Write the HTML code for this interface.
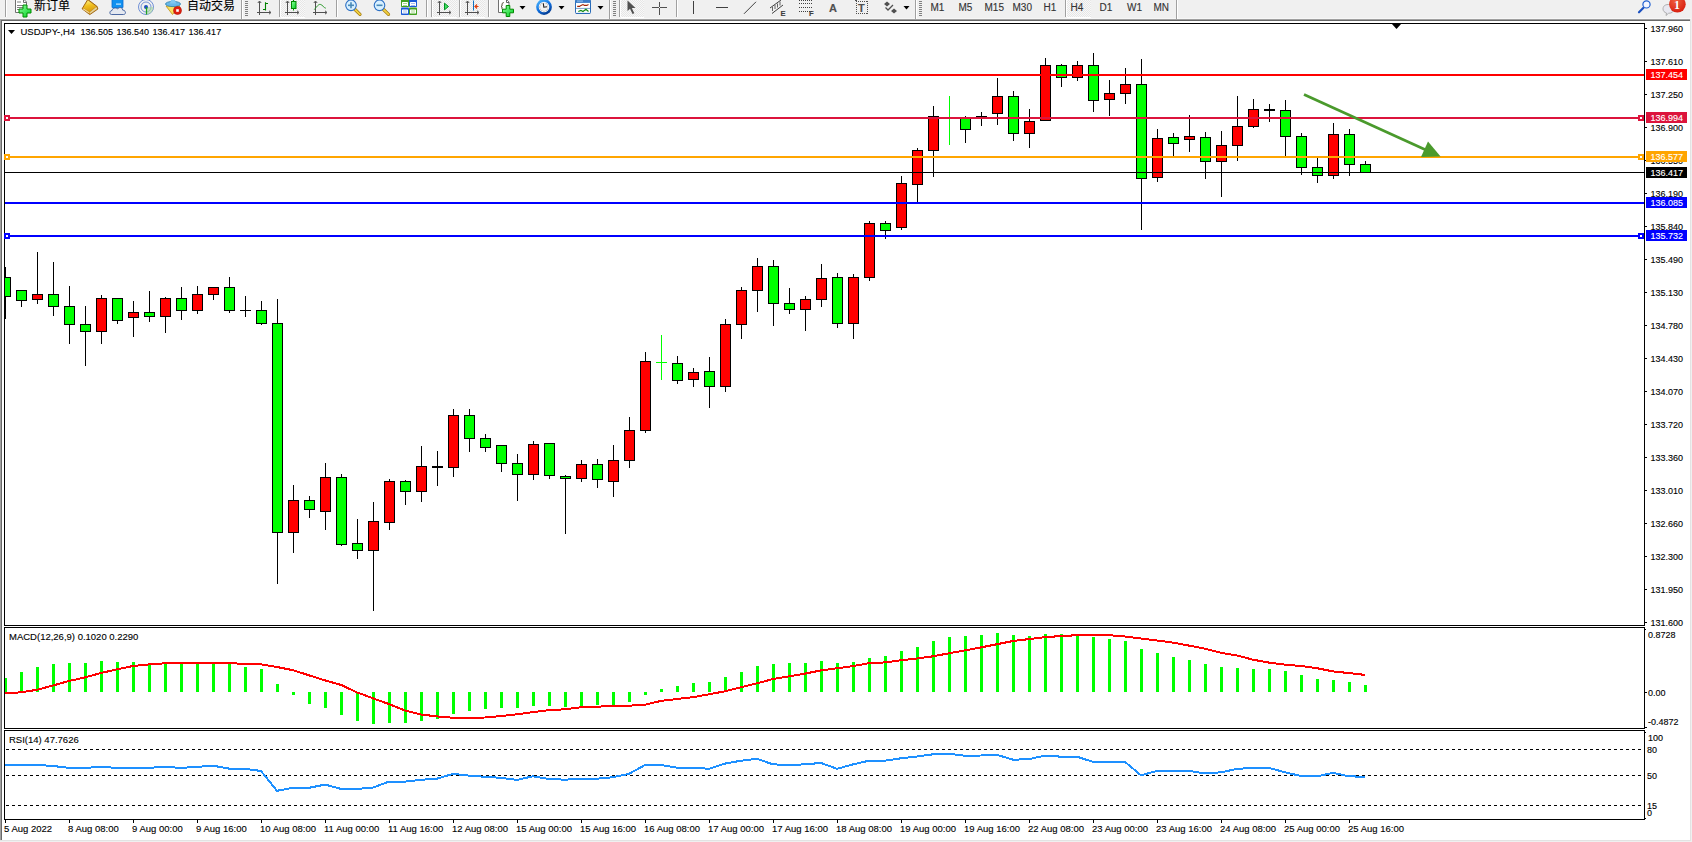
<!DOCTYPE html><html><head><meta charset="utf-8"><title>USDJPY-,H4</title><style>
html,body{margin:0;padding:0;width:1692px;height:842px;overflow:hidden;background:#f0f0f0}
svg{display:block;position:absolute;left:0;top:0}
text{font-family:"Liberation Sans",sans-serif;font-size:9.5px;fill:#000}
.tb{font-size:10px;fill:#333}
.cj{font-family:"Liberation Sans","Noto Sans CJK SC","WenQuanYi Zen Hei",sans-serif;font-size:12px;fill:#000}
.wt{fill:#fff}
.n{font-size:9px}
text{stroke:#000;stroke-width:0.12px;paint-order:stroke}
.wt{stroke:#fff}
.tb{stroke:#333}
</style></head><body>
<svg width="1692" height="842" viewBox="0 0 1692 842" shape-rendering="crispEdges">
<rect x="0" y="0" width="1692" height="842" fill="#f0f0f0"/>
<rect x="0" y="18" width="1691" height="1" fill="#f7f7f7"/>
<rect x="0" y="19" width="1691" height="1" fill="#a0a0a0"/>
<rect x="1" y="20" width="1690" height="1" fill="#696969"/>
<rect x="0" y="19" width="1" height="821" fill="#a0a0a0"/>
<rect x="1" y="20" width="1" height="820" fill="#696969"/>
<rect x="2" y="21" width="1688" height="819" fill="#ffffff"/>
<rect x="1690" y="19" width="1" height="822" fill="#e3e3e3"/>
<rect x="0" y="840" width="1691" height="1" fill="#e3e3e3"/>
<rect x="4" y="23" width="1641" height="1" fill="#000"/>
<rect x="4" y="625" width="1641" height="1" fill="#000"/>
<rect x="4" y="23" width="1" height="603" fill="#000"/>
<rect x="1644" y="23" width="1" height="603" fill="#000"/>
<rect x="4" y="627" width="1641" height="1" fill="#000"/>
<rect x="4" y="728" width="1641" height="1" fill="#000"/>
<rect x="4" y="627" width="1" height="102" fill="#000"/>
<rect x="1644" y="627" width="1" height="102" fill="#000"/>
<rect x="4" y="730" width="1641" height="1" fill="#000"/>
<rect x="4" y="819" width="1641" height="1" fill="#000"/>
<rect x="4" y="730" width="1" height="90" fill="#000"/>
<rect x="1644" y="730" width="1" height="90" fill="#000"/>
<defs><clipPath id="cm"><rect x="5" y="24" width="1639" height="601"/></clipPath><clipPath id="cd"><rect x="5" y="628" width="1639" height="100"/></clipPath><clipPath id="cr"><rect x="5" y="731" width="1639" height="88"/></clipPath></defs>
<g clip-path="url(#cm)">
<rect x="5" y="267" width="1" height="52" fill="#000"/>
<rect x="0" y="277" width="11" height="20" fill="#000"/>
<rect x="1" y="278" width="9" height="18" fill="#00ff00"/>
<rect x="21" y="290" width="1" height="17" fill="#000"/>
<rect x="16" y="290" width="11" height="11" fill="#000"/>
<rect x="17" y="291" width="9" height="9" fill="#00ff00"/>
<rect x="37" y="252" width="1" height="52" fill="#000"/>
<rect x="32" y="294" width="11" height="6" fill="#000"/>
<rect x="33" y="295" width="9" height="4" fill="#ff0000"/>
<rect x="53" y="262" width="1" height="54" fill="#000"/>
<rect x="48" y="294" width="11" height="13" fill="#000"/>
<rect x="49" y="295" width="9" height="11" fill="#00ff00"/>
<rect x="69" y="286" width="1" height="58" fill="#000"/>
<rect x="64" y="306" width="11" height="19" fill="#000"/>
<rect x="65" y="307" width="9" height="17" fill="#00ff00"/>
<rect x="85" y="306" width="1" height="60" fill="#000"/>
<rect x="80" y="324" width="11" height="8" fill="#000"/>
<rect x="81" y="325" width="9" height="6" fill="#00ff00"/>
<rect x="101" y="295" width="1" height="49" fill="#000"/>
<rect x="96" y="298" width="11" height="34" fill="#000"/>
<rect x="97" y="299" width="9" height="32" fill="#ff0000"/>
<rect x="117" y="298" width="1" height="26" fill="#000"/>
<rect x="112" y="298" width="11" height="23" fill="#000"/>
<rect x="113" y="299" width="9" height="21" fill="#00ff00"/>
<rect x="133" y="301" width="1" height="36" fill="#000"/>
<rect x="128" y="312" width="11" height="6" fill="#000"/>
<rect x="129" y="313" width="9" height="4" fill="#ff0000"/>
<rect x="149" y="291" width="1" height="31" fill="#000"/>
<rect x="144" y="312" width="11" height="5" fill="#000"/>
<rect x="145" y="313" width="9" height="3" fill="#00ff00"/>
<rect x="165" y="297" width="1" height="36" fill="#000"/>
<rect x="160" y="298" width="11" height="19" fill="#000"/>
<rect x="161" y="299" width="9" height="17" fill="#ff0000"/>
<rect x="181" y="287" width="1" height="33" fill="#000"/>
<rect x="176" y="298" width="11" height="13" fill="#000"/>
<rect x="177" y="299" width="9" height="11" fill="#00ff00"/>
<rect x="197" y="286" width="1" height="28" fill="#000"/>
<rect x="192" y="294" width="11" height="17" fill="#000"/>
<rect x="193" y="295" width="9" height="15" fill="#ff0000"/>
<rect x="213" y="287" width="1" height="13" fill="#000"/>
<rect x="208" y="287" width="11" height="8" fill="#000"/>
<rect x="209" y="288" width="9" height="6" fill="#ff0000"/>
<rect x="229" y="277" width="1" height="36" fill="#000"/>
<rect x="224" y="287" width="11" height="24" fill="#000"/>
<rect x="225" y="288" width="9" height="22" fill="#00ff00"/>
<rect x="245" y="296" width="1" height="21" fill="#000"/>
<rect x="240" y="310" width="11" height="1" fill="#000"/>
<rect x="261" y="301" width="1" height="24" fill="#000"/>
<rect x="256" y="310" width="11" height="14" fill="#000"/>
<rect x="257" y="311" width="9" height="12" fill="#00ff00"/>
<rect x="277" y="299" width="1" height="285" fill="#000"/>
<rect x="272" y="323" width="11" height="210" fill="#000"/>
<rect x="273" y="324" width="9" height="208" fill="#00ff00"/>
<rect x="293" y="485" width="1" height="68" fill="#000"/>
<rect x="288" y="500" width="11" height="33" fill="#000"/>
<rect x="289" y="501" width="9" height="31" fill="#ff0000"/>
<rect x="309" y="496" width="1" height="22" fill="#000"/>
<rect x="304" y="500" width="11" height="10" fill="#000"/>
<rect x="305" y="501" width="9" height="8" fill="#00ff00"/>
<rect x="325" y="463" width="1" height="67" fill="#000"/>
<rect x="320" y="477" width="11" height="35" fill="#000"/>
<rect x="321" y="478" width="9" height="33" fill="#ff0000"/>
<rect x="341" y="474" width="1" height="72" fill="#000"/>
<rect x="336" y="477" width="11" height="68" fill="#000"/>
<rect x="337" y="478" width="9" height="66" fill="#00ff00"/>
<rect x="357" y="519" width="1" height="40" fill="#000"/>
<rect x="352" y="543" width="11" height="8" fill="#000"/>
<rect x="353" y="544" width="9" height="6" fill="#00ff00"/>
<rect x="373" y="502" width="1" height="109" fill="#000"/>
<rect x="368" y="521" width="11" height="30" fill="#000"/>
<rect x="369" y="522" width="9" height="28" fill="#ff0000"/>
<rect x="389" y="479" width="1" height="51" fill="#000"/>
<rect x="384" y="481" width="11" height="42" fill="#000"/>
<rect x="385" y="482" width="9" height="40" fill="#ff0000"/>
<rect x="405" y="480" width="1" height="25" fill="#000"/>
<rect x="400" y="481" width="11" height="11" fill="#000"/>
<rect x="401" y="482" width="9" height="9" fill="#00ff00"/>
<rect x="421" y="446" width="1" height="56" fill="#000"/>
<rect x="416" y="466" width="11" height="26" fill="#000"/>
<rect x="417" y="467" width="9" height="24" fill="#ff0000"/>
<rect x="437" y="451" width="1" height="35" fill="#000"/>
<rect x="432" y="466" width="11" height="2" fill="#000"/>
<rect x="453" y="409" width="1" height="68" fill="#000"/>
<rect x="448" y="415" width="11" height="53" fill="#000"/>
<rect x="449" y="416" width="9" height="51" fill="#ff0000"/>
<rect x="469" y="409" width="1" height="43" fill="#000"/>
<rect x="464" y="415" width="11" height="24" fill="#000"/>
<rect x="465" y="416" width="9" height="22" fill="#00ff00"/>
<rect x="485" y="434" width="1" height="18" fill="#000"/>
<rect x="480" y="438" width="11" height="10" fill="#000"/>
<rect x="481" y="439" width="9" height="8" fill="#00ff00"/>
<rect x="501" y="445" width="1" height="27" fill="#000"/>
<rect x="496" y="445" width="11" height="19" fill="#000"/>
<rect x="497" y="446" width="9" height="17" fill="#00ff00"/>
<rect x="517" y="454" width="1" height="47" fill="#000"/>
<rect x="512" y="463" width="11" height="12" fill="#000"/>
<rect x="513" y="464" width="9" height="10" fill="#00ff00"/>
<rect x="533" y="441" width="1" height="39" fill="#000"/>
<rect x="528" y="444" width="11" height="31" fill="#000"/>
<rect x="529" y="445" width="9" height="29" fill="#ff0000"/>
<rect x="549" y="443" width="1" height="36" fill="#000"/>
<rect x="544" y="443" width="11" height="33" fill="#000"/>
<rect x="545" y="444" width="9" height="31" fill="#00ff00"/>
<rect x="565" y="475" width="1" height="59" fill="#000"/>
<rect x="560" y="476" width="11" height="3" fill="#000"/>
<rect x="561" y="477" width="9" height="1" fill="#00ff00"/>
<rect x="581" y="460" width="1" height="22" fill="#000"/>
<rect x="576" y="464" width="11" height="15" fill="#000"/>
<rect x="577" y="465" width="9" height="13" fill="#ff0000"/>
<rect x="597" y="459" width="1" height="29" fill="#000"/>
<rect x="592" y="464" width="11" height="16" fill="#000"/>
<rect x="593" y="465" width="9" height="14" fill="#00ff00"/>
<rect x="613" y="445" width="1" height="52" fill="#000"/>
<rect x="608" y="460" width="11" height="22" fill="#000"/>
<rect x="609" y="461" width="9" height="20" fill="#ff0000"/>
<rect x="629" y="417" width="1" height="51" fill="#000"/>
<rect x="624" y="430" width="11" height="31" fill="#000"/>
<rect x="625" y="431" width="9" height="29" fill="#ff0000"/>
<rect x="645" y="352" width="1" height="81" fill="#000"/>
<rect x="640" y="361" width="11" height="70" fill="#000"/>
<rect x="641" y="362" width="9" height="68" fill="#ff0000"/>
<rect x="661" y="335" width="1" height="45" fill="#00ff00"/>
<rect x="656" y="362" width="11" height="1" fill="#00ff00"/>
<rect x="677" y="356" width="1" height="28" fill="#000"/>
<rect x="672" y="363" width="11" height="18" fill="#000"/>
<rect x="673" y="364" width="9" height="16" fill="#00ff00"/>
<rect x="693" y="368" width="1" height="19" fill="#000"/>
<rect x="688" y="372" width="11" height="8" fill="#000"/>
<rect x="689" y="373" width="9" height="6" fill="#ff0000"/>
<rect x="709" y="357" width="1" height="51" fill="#000"/>
<rect x="704" y="371" width="11" height="16" fill="#000"/>
<rect x="705" y="372" width="9" height="14" fill="#00ff00"/>
<rect x="725" y="319" width="1" height="73" fill="#000"/>
<rect x="720" y="324" width="11" height="63" fill="#000"/>
<rect x="721" y="325" width="9" height="61" fill="#ff0000"/>
<rect x="741" y="287" width="1" height="52" fill="#000"/>
<rect x="736" y="290" width="11" height="35" fill="#000"/>
<rect x="737" y="291" width="9" height="33" fill="#ff0000"/>
<rect x="757" y="258" width="1" height="54" fill="#000"/>
<rect x="752" y="266" width="11" height="25" fill="#000"/>
<rect x="753" y="267" width="9" height="23" fill="#ff0000"/>
<rect x="773" y="260" width="1" height="66" fill="#000"/>
<rect x="768" y="266" width="11" height="38" fill="#000"/>
<rect x="769" y="267" width="9" height="36" fill="#00ff00"/>
<rect x="789" y="288" width="1" height="26" fill="#000"/>
<rect x="784" y="303" width="11" height="7" fill="#000"/>
<rect x="785" y="304" width="9" height="5" fill="#00ff00"/>
<rect x="805" y="296" width="1" height="35" fill="#000"/>
<rect x="800" y="299" width="11" height="11" fill="#000"/>
<rect x="801" y="300" width="9" height="9" fill="#ff0000"/>
<rect x="821" y="264" width="1" height="43" fill="#000"/>
<rect x="816" y="278" width="11" height="22" fill="#000"/>
<rect x="817" y="279" width="9" height="20" fill="#ff0000"/>
<rect x="837" y="273" width="1" height="55" fill="#000"/>
<rect x="832" y="277" width="11" height="47" fill="#000"/>
<rect x="833" y="278" width="9" height="45" fill="#00ff00"/>
<rect x="853" y="274" width="1" height="65" fill="#000"/>
<rect x="848" y="277" width="11" height="47" fill="#000"/>
<rect x="849" y="278" width="9" height="45" fill="#ff0000"/>
<rect x="869" y="221" width="1" height="60" fill="#000"/>
<rect x="864" y="223" width="11" height="55" fill="#000"/>
<rect x="865" y="224" width="9" height="53" fill="#ff0000"/>
<rect x="885" y="221" width="1" height="18" fill="#000"/>
<rect x="880" y="223" width="11" height="8" fill="#000"/>
<rect x="881" y="224" width="9" height="6" fill="#00ff00"/>
<rect x="901" y="176" width="1" height="54" fill="#000"/>
<rect x="896" y="183" width="11" height="45" fill="#000"/>
<rect x="897" y="184" width="9" height="43" fill="#ff0000"/>
<rect x="917" y="148" width="1" height="55" fill="#000"/>
<rect x="912" y="150" width="11" height="35" fill="#000"/>
<rect x="913" y="151" width="9" height="33" fill="#ff0000"/>
<rect x="933" y="106" width="1" height="71" fill="#000"/>
<rect x="928" y="116" width="11" height="35" fill="#000"/>
<rect x="929" y="117" width="9" height="33" fill="#ff0000"/>
<rect x="949" y="96" width="1" height="49" fill="#00ff00"/>
<rect x="944" y="117" width="11" height="1" fill="#00ff00"/>
<rect x="965" y="116" width="1" height="27" fill="#000"/>
<rect x="960" y="118" width="11" height="12" fill="#000"/>
<rect x="961" y="119" width="9" height="10" fill="#00ff00"/>
<rect x="981" y="112" width="1" height="14" fill="#000"/>
<rect x="976" y="116" width="11" height="1" fill="#000"/>
<rect x="997" y="78" width="1" height="47" fill="#000"/>
<rect x="992" y="96" width="11" height="18" fill="#000"/>
<rect x="993" y="97" width="9" height="16" fill="#ff0000"/>
<rect x="1013" y="91" width="1" height="50" fill="#000"/>
<rect x="1008" y="96" width="11" height="38" fill="#000"/>
<rect x="1009" y="97" width="9" height="36" fill="#00ff00"/>
<rect x="1029" y="109" width="1" height="39" fill="#000"/>
<rect x="1024" y="121" width="11" height="13" fill="#000"/>
<rect x="1025" y="122" width="9" height="11" fill="#ff0000"/>
<rect x="1045" y="58" width="1" height="63" fill="#000"/>
<rect x="1040" y="65" width="11" height="56" fill="#000"/>
<rect x="1041" y="66" width="9" height="54" fill="#ff0000"/>
<rect x="1061" y="64" width="1" height="23" fill="#000"/>
<rect x="1056" y="65" width="11" height="13" fill="#000"/>
<rect x="1057" y="66" width="9" height="11" fill="#00ff00"/>
<rect x="1077" y="61" width="1" height="20" fill="#000"/>
<rect x="1072" y="65" width="11" height="13" fill="#000"/>
<rect x="1073" y="66" width="9" height="11" fill="#ff0000"/>
<rect x="1093" y="53" width="1" height="59" fill="#000"/>
<rect x="1088" y="65" width="11" height="36" fill="#000"/>
<rect x="1089" y="66" width="9" height="34" fill="#00ff00"/>
<rect x="1109" y="80" width="1" height="36" fill="#000"/>
<rect x="1104" y="93" width="11" height="7" fill="#000"/>
<rect x="1105" y="94" width="9" height="5" fill="#ff0000"/>
<rect x="1125" y="68" width="1" height="36" fill="#000"/>
<rect x="1120" y="84" width="11" height="10" fill="#000"/>
<rect x="1121" y="85" width="9" height="8" fill="#ff0000"/>
<rect x="1141" y="59" width="1" height="171" fill="#000"/>
<rect x="1136" y="84" width="11" height="95" fill="#000"/>
<rect x="1137" y="85" width="9" height="93" fill="#00ff00"/>
<rect x="1157" y="129" width="1" height="53" fill="#000"/>
<rect x="1152" y="138" width="11" height="40" fill="#000"/>
<rect x="1153" y="139" width="9" height="38" fill="#ff0000"/>
<rect x="1173" y="133" width="1" height="24" fill="#000"/>
<rect x="1168" y="137" width="11" height="7" fill="#000"/>
<rect x="1169" y="138" width="9" height="5" fill="#00ff00"/>
<rect x="1189" y="115" width="1" height="37" fill="#000"/>
<rect x="1184" y="136" width="11" height="4" fill="#000"/>
<rect x="1185" y="137" width="9" height="2" fill="#ff0000"/>
<rect x="1205" y="132" width="1" height="47" fill="#000"/>
<rect x="1200" y="137" width="11" height="25" fill="#000"/>
<rect x="1201" y="138" width="9" height="23" fill="#00ff00"/>
<rect x="1221" y="131" width="1" height="66" fill="#000"/>
<rect x="1216" y="145" width="11" height="17" fill="#000"/>
<rect x="1217" y="146" width="9" height="15" fill="#ff0000"/>
<rect x="1237" y="96" width="1" height="65" fill="#000"/>
<rect x="1232" y="126" width="11" height="20" fill="#000"/>
<rect x="1233" y="127" width="9" height="18" fill="#ff0000"/>
<rect x="1253" y="99" width="1" height="29" fill="#000"/>
<rect x="1248" y="109" width="11" height="18" fill="#000"/>
<rect x="1249" y="110" width="9" height="16" fill="#ff0000"/>
<rect x="1269" y="104" width="1" height="18" fill="#000"/>
<rect x="1264" y="109" width="11" height="2" fill="#000"/>
<rect x="1285" y="100" width="1" height="56" fill="#000"/>
<rect x="1280" y="110" width="11" height="27" fill="#000"/>
<rect x="1281" y="111" width="9" height="25" fill="#00ff00"/>
<rect x="1301" y="133" width="1" height="42" fill="#000"/>
<rect x="1296" y="136" width="11" height="32" fill="#000"/>
<rect x="1297" y="137" width="9" height="30" fill="#00ff00"/>
<rect x="1317" y="158" width="1" height="25" fill="#000"/>
<rect x="1312" y="167" width="11" height="9" fill="#000"/>
<rect x="1313" y="168" width="9" height="7" fill="#00ff00"/>
<rect x="1333" y="123" width="1" height="56" fill="#000"/>
<rect x="1328" y="134" width="11" height="42" fill="#000"/>
<rect x="1329" y="135" width="9" height="40" fill="#ff0000"/>
<rect x="1349" y="129" width="1" height="47" fill="#000"/>
<rect x="1344" y="134" width="11" height="31" fill="#000"/>
<rect x="1345" y="135" width="9" height="29" fill="#00ff00"/>
<rect x="1365" y="161" width="1" height="12" fill="#000"/>
<rect x="1360" y="164" width="11" height="9" fill="#000"/>
<rect x="1361" y="165" width="9" height="7" fill="#00ff00"/>
<rect x="5" y="74" width="1639" height="2" fill="#ff0000"/>
<rect x="5" y="117" width="1639" height="2" fill="#dc143c"/>
<rect x="4" y="115" width="6" height="6" fill="#dc143c"/>
<rect x="6" y="117" width="2" height="2" fill="#fff"/>
<rect x="1638" y="115" width="6" height="6" fill="#dc143c"/>
<rect x="1640" y="117" width="2" height="2" fill="#fff"/>
<rect x="5" y="156" width="1639" height="2" fill="#ffa500"/>
<rect x="4" y="154" width="6" height="6" fill="#ffa500"/>
<rect x="6" y="156" width="2" height="2" fill="#fff"/>
<rect x="1638" y="154" width="6" height="6" fill="#ffa500"/>
<rect x="1640" y="156" width="2" height="2" fill="#fff"/>
<rect x="5" y="172" width="1639" height="1" fill="#000000"/>
<rect x="5" y="202" width="1639" height="2" fill="#0000ff"/>
<rect x="5" y="235" width="1639" height="2" fill="#0000ff"/>
<rect x="4" y="233" width="6" height="6" fill="#0000ff"/>
<rect x="6" y="235" width="2" height="2" fill="#fff"/>
<rect x="1638" y="233" width="6" height="6" fill="#0000ff"/>
<rect x="1640" y="235" width="2" height="2" fill="#fff"/>
<g shape-rendering="geometricPrecision" fill="#4a9a2c"><line x1="1304" y1="94.5" x2="1426" y2="150" stroke="#4a9a2c" stroke-width="2.7"/><polygon points="1428,141.4 1421,157.1 1440.6,156.4"/></g>
</g>
<rect x="4" y="115" width="6" height="6" fill="#dc143c"/>
<rect x="6" y="117" width="2" height="2" fill="#fff"/>
<rect x="4" y="154" width="6" height="6" fill="#ffa500"/>
<rect x="6" y="156" width="2" height="2" fill="#fff"/>
<rect x="4" y="233" width="6" height="6" fill="#0000ff"/>
<rect x="6" y="235" width="2" height="2" fill="#fff"/>
<polygon points="1391.5,23.5 1401.5,23.5 1396.5,29" fill="#000" shape-rendering="geometricPrecision"/>
<polygon points="8,30 15,30 11.5,34" fill="#000" shape-rendering="geometricPrecision"/>
<text transform="translate(20.5,35)">USDJPY-,H4</text><text class="n" transform="translate(80.5,35)" style="word-spacing:1px">136.505 136.540 136.417 136.417</text>
<rect x="1645" y="28" width="2" height="1" fill="#000"/>
<text class="n" transform="translate(1650.5,32)">137.960</text>
<rect x="1645" y="61" width="2" height="1" fill="#000"/>
<text class="n" transform="translate(1650.5,65)">137.610</text>
<rect x="1645" y="94" width="2" height="1" fill="#000"/>
<text class="n" transform="translate(1650.5,98)">137.250</text>
<rect x="1645" y="127" width="2" height="1" fill="#000"/>
<text class="n" transform="translate(1650.5,131)">136.900</text>
<rect x="1645" y="160" width="2" height="1" fill="#000"/>
<text class="n" transform="translate(1650.5,164)">136.550</text>
<rect x="1645" y="193" width="2" height="1" fill="#000"/>
<text class="n" transform="translate(1650.5,197)">136.190</text>
<rect x="1645" y="226" width="2" height="1" fill="#000"/>
<text class="n" transform="translate(1650.5,230)">135.840</text>
<rect x="1645" y="259" width="2" height="1" fill="#000"/>
<text class="n" transform="translate(1650.5,263)">135.490</text>
<rect x="1645" y="292" width="2" height="1" fill="#000"/>
<text class="n" transform="translate(1650.5,296)">135.130</text>
<rect x="1645" y="325" width="2" height="1" fill="#000"/>
<text class="n" transform="translate(1650.5,329)">134.780</text>
<rect x="1645" y="358" width="2" height="1" fill="#000"/>
<text class="n" transform="translate(1650.5,362)">134.430</text>
<rect x="1645" y="391" width="2" height="1" fill="#000"/>
<text class="n" transform="translate(1650.5,395)">134.070</text>
<rect x="1645" y="424" width="2" height="1" fill="#000"/>
<text class="n" transform="translate(1650.5,428)">133.720</text>
<rect x="1645" y="457" width="2" height="1" fill="#000"/>
<text class="n" transform="translate(1650.5,461)">133.360</text>
<rect x="1645" y="490" width="2" height="1" fill="#000"/>
<text class="n" transform="translate(1650.5,494)">133.010</text>
<rect x="1645" y="523" width="2" height="1" fill="#000"/>
<text class="n" transform="translate(1650.5,527)">132.660</text>
<rect x="1645" y="556" width="2" height="1" fill="#000"/>
<text class="n" transform="translate(1650.5,560)">132.300</text>
<rect x="1645" y="589" width="2" height="1" fill="#000"/>
<text class="n" transform="translate(1650.5,593)">131.950</text>
<rect x="1645" y="622" width="2" height="1" fill="#000"/>
<text class="n" transform="translate(1650.5,626)">131.600</text>
<rect x="1646" y="69" width="41" height="11" fill="#ff0000"/>
<text class="wt n" transform="translate(1650.5,78)">137.454</text>
<rect x="1646" y="112" width="41" height="11" fill="#dc143c"/>
<text class="wt n" transform="translate(1650.5,121)">136.994</text>
<rect x="1646" y="151" width="41" height="11" fill="#ffa500"/>
<text class="wt n" transform="translate(1650.5,160)">136.577</text>
<rect x="1646" y="167" width="41" height="11" fill="#000000"/>
<text class="wt n" transform="translate(1650.5,176)">136.417</text>
<rect x="1646" y="197" width="41" height="11" fill="#0000ff"/>
<text class="wt n" transform="translate(1650.5,206)">136.085</text>
<rect x="1646" y="230" width="41" height="11" fill="#0000ff"/>
<text class="wt n" transform="translate(1650.5,239)">135.732</text>
<g clip-path="url(#cd)">
<rect x="4" y="678" width="3" height="14" fill="#00ff00"/>
<rect x="20" y="672" width="3" height="20" fill="#00ff00"/>
<rect x="36" y="667" width="3" height="25" fill="#00ff00"/>
<rect x="52" y="664" width="3" height="28" fill="#00ff00"/>
<rect x="68" y="663" width="3" height="29" fill="#00ff00"/>
<rect x="84" y="663" width="3" height="29" fill="#00ff00"/>
<rect x="100" y="661" width="3" height="31" fill="#00ff00"/>
<rect x="116" y="662" width="3" height="30" fill="#00ff00"/>
<rect x="132" y="662" width="3" height="30" fill="#00ff00"/>
<rect x="148" y="663" width="3" height="29" fill="#00ff00"/>
<rect x="164" y="664" width="3" height="28" fill="#00ff00"/>
<rect x="180" y="664" width="3" height="28" fill="#00ff00"/>
<rect x="196" y="664" width="3" height="28" fill="#00ff00"/>
<rect x="212" y="664" width="3" height="28" fill="#00ff00"/>
<rect x="228" y="664" width="3" height="28" fill="#00ff00"/>
<rect x="244" y="667" width="3" height="25" fill="#00ff00"/>
<rect x="260" y="669" width="3" height="23" fill="#00ff00"/>
<rect x="276" y="684" width="3" height="8" fill="#00ff00"/>
<rect x="292" y="692" width="3" height="3" fill="#00ff00"/>
<rect x="308" y="692" width="3" height="12" fill="#00ff00"/>
<rect x="324" y="692" width="3" height="16" fill="#00ff00"/>
<rect x="340" y="692" width="3" height="23" fill="#00ff00"/>
<rect x="356" y="692" width="3" height="29" fill="#00ff00"/>
<rect x="372" y="692" width="3" height="32" fill="#00ff00"/>
<rect x="388" y="692" width="3" height="31" fill="#00ff00"/>
<rect x="404" y="692" width="3" height="31" fill="#00ff00"/>
<rect x="420" y="692" width="3" height="29" fill="#00ff00"/>
<rect x="436" y="692" width="3" height="27" fill="#00ff00"/>
<rect x="452" y="692" width="3" height="22" fill="#00ff00"/>
<rect x="468" y="692" width="3" height="19" fill="#00ff00"/>
<rect x="484" y="692" width="3" height="17" fill="#00ff00"/>
<rect x="500" y="692" width="3" height="16" fill="#00ff00"/>
<rect x="516" y="692" width="3" height="16" fill="#00ff00"/>
<rect x="532" y="692" width="3" height="14" fill="#00ff00"/>
<rect x="548" y="692" width="3" height="14" fill="#00ff00"/>
<rect x="564" y="692" width="3" height="15" fill="#00ff00"/>
<rect x="580" y="692" width="3" height="14" fill="#00ff00"/>
<rect x="596" y="692" width="3" height="13" fill="#00ff00"/>
<rect x="612" y="692" width="3" height="13" fill="#00ff00"/>
<rect x="628" y="692" width="3" height="10" fill="#00ff00"/>
<rect x="644" y="692" width="3" height="3" fill="#00ff00"/>
<rect x="660" y="689" width="3" height="3" fill="#00ff00"/>
<rect x="676" y="686" width="3" height="6" fill="#00ff00"/>
<rect x="692" y="683" width="3" height="9" fill="#00ff00"/>
<rect x="708" y="682" width="3" height="10" fill="#00ff00"/>
<rect x="724" y="677" width="3" height="15" fill="#00ff00"/>
<rect x="740" y="672" width="3" height="20" fill="#00ff00"/>
<rect x="756" y="666" width="3" height="26" fill="#00ff00"/>
<rect x="772" y="664" width="3" height="28" fill="#00ff00"/>
<rect x="788" y="663" width="3" height="29" fill="#00ff00"/>
<rect x="804" y="663" width="3" height="29" fill="#00ff00"/>
<rect x="820" y="661" width="3" height="31" fill="#00ff00"/>
<rect x="836" y="663" width="3" height="29" fill="#00ff00"/>
<rect x="852" y="662" width="3" height="30" fill="#00ff00"/>
<rect x="868" y="658" width="3" height="34" fill="#00ff00"/>
<rect x="884" y="656" width="3" height="36" fill="#00ff00"/>
<rect x="900" y="651" width="3" height="41" fill="#00ff00"/>
<rect x="916" y="647" width="3" height="45" fill="#00ff00"/>
<rect x="932" y="641" width="3" height="51" fill="#00ff00"/>
<rect x="948" y="637" width="3" height="55" fill="#00ff00"/>
<rect x="964" y="636" width="3" height="56" fill="#00ff00"/>
<rect x="980" y="635" width="3" height="57" fill="#00ff00"/>
<rect x="996" y="633" width="3" height="59" fill="#00ff00"/>
<rect x="1012" y="635" width="3" height="57" fill="#00ff00"/>
<rect x="1028" y="636" width="3" height="56" fill="#00ff00"/>
<rect x="1044" y="634" width="3" height="58" fill="#00ff00"/>
<rect x="1060" y="634" width="3" height="58" fill="#00ff00"/>
<rect x="1076" y="634" width="3" height="58" fill="#00ff00"/>
<rect x="1092" y="637" width="3" height="55" fill="#00ff00"/>
<rect x="1108" y="639" width="3" height="53" fill="#00ff00"/>
<rect x="1124" y="641" width="3" height="51" fill="#00ff00"/>
<rect x="1140" y="649" width="3" height="43" fill="#00ff00"/>
<rect x="1156" y="653" width="3" height="39" fill="#00ff00"/>
<rect x="1172" y="657" width="3" height="35" fill="#00ff00"/>
<rect x="1188" y="660" width="3" height="32" fill="#00ff00"/>
<rect x="1204" y="664" width="3" height="28" fill="#00ff00"/>
<rect x="1220" y="667" width="3" height="25" fill="#00ff00"/>
<rect x="1236" y="668" width="3" height="24" fill="#00ff00"/>
<rect x="1252" y="669" width="3" height="23" fill="#00ff00"/>
<rect x="1268" y="669" width="3" height="23" fill="#00ff00"/>
<rect x="1284" y="671" width="3" height="21" fill="#00ff00"/>
<rect x="1300" y="675" width="3" height="17" fill="#00ff00"/>
<rect x="1316" y="679" width="3" height="13" fill="#00ff00"/>
<rect x="1332" y="680" width="3" height="12" fill="#00ff00"/>
<rect x="1348" y="682" width="3" height="10" fill="#00ff00"/>
<rect x="1364" y="685" width="3" height="7" fill="#00ff00"/>
<polyline points="5,693.3 21,692.3 37,689.8 53,685.5 69,681.0 85,677.4 101,673.0 117,669.3 133,666.0 149,664.4 165,663.3 181,662.8 197,662.8 213,662.8 229,663.0 245,664.0 261,664.4 277,667.0 293,670.2 309,675.3 325,680.4 341,684.9 357,692.4 373,698.3 389,704.1 405,710.5 421,714.5 437,716.4 453,717.8 469,717.8 485,717.5 501,716.1 517,714.3 533,712.1 549,710.2 565,709.3 581,707.3 597,706.8 613,705.7 629,705.7 645,704.7 661,700.9 677,699.0 693,697.2 709,694.3 725,691.3 741,687.2 757,683.3 773,679.0 789,676.3 805,673.6 821,670.4 837,668.3 853,666.1 869,663.2 885,662.4 901,660.3 917,658.5 933,656.3 949,653.3 965,650.4 981,647.4 997,644.2 1013,641.0 1029,639.1 1045,637.1 1061,636.1 1077,635.2 1093,634.9 1109,635.2 1125,636.5 1141,638.5 1157,640.5 1173,642.6 1189,645.6 1205,648.7 1221,652.8 1237,655.5 1253,659.7 1269,662.6 1285,664.6 1301,666.0 1317,668.2 1333,671.4 1349,673.1 1365,674.9" fill="none" stroke="#ff0000" stroke-width="2" stroke-linejoin="round"/>
</g>
<text transform="translate(9,640)">MACD(12,26,9) 0.1020 0.2290</text>
<rect x="1645" y="629" width="1" height="1" fill="#000"/>
<rect x="1645" y="692" width="2" height="1" fill="#000"/>
<rect x="1645" y="727" width="2" height="1" fill="#000"/>
<text class="n" transform="translate(1648,638)">0.8728</text>
<text class="n" transform="translate(1648,696)">0.00</text>
<text class="n" transform="translate(1648,725)">-0.4872</text>
<g clip-path="url(#cr)">
<line x1="6" y1="749.5" x2="1644" y2="749.5" stroke="#000" stroke-width="1" stroke-dasharray="3,3"/>
<line x1="6" y1="775.5" x2="1644" y2="775.5" stroke="#000" stroke-width="1" stroke-dasharray="3,3"/>
<line x1="6" y1="805.5" x2="1644" y2="805.5" stroke="#000" stroke-width="1" stroke-dasharray="3,3"/>
<polyline points="5,764.8 21,764.8 37,764.8 53,766.0 69,767.8 85,767.8 101,767.0 117,767.8 133,767.8 149,767.8 165,766.8 181,767.9 197,766.9 213,765.7 229,768.6 245,768.8 261,771.0 277,790.8 293,787.8 309,787.8 325,784.6 341,788.9 357,788.9 373,787.6 389,781.6 405,781.6 421,779.8 437,778.7 453,773.8 469,775.6 485,776.8 501,777.8 517,779.9 533,776.3 549,779.0 565,779.7 581,778.7 597,778.7 613,777.2 629,773.8 645,765.0 661,765.0 677,767.6 693,767.6 709,768.8 725,763.6 741,760.7 757,758.8 773,764.4 789,764.8 805,764.4 821,762.9 837,768.8 853,764.4 869,760.7 885,760.7 901,758.3 917,756.5 933,754.3 949,753.7 965,755.8 981,755.5 997,754.8 1013,759.7 1029,759.2 1045,755.5 1061,756.7 1077,756.7 1093,761.9 1109,761.9 1125,761.9 1141,775.3 1157,770.9 1173,770.9 1189,770.9 1205,773.5 1221,772.3 1237,768.9 1253,767.9 1269,767.9 1285,772.3 1301,776.0 1317,776.5 1333,772.8 1349,776.3 1365,776.8" fill="none" stroke="#1e90ff" stroke-width="2" stroke-linejoin="round"/>
</g>
<text transform="translate(9,743)">RSI(14) 47.7626</text>
<rect x="1645" y="732" width="1" height="1" fill="#000"/>
<rect x="1645" y="818" width="1" height="1" fill="#000"/>
<text class="n" transform="translate(1648,741)">100</text>
<text class="n" transform="translate(1647,753)">80</text>
<text class="n" transform="translate(1647,779)">50</text>
<text class="n" transform="translate(1647,809)">15</text>
<text class="n" transform="translate(1647,816)">0</text>
<rect x="5" y="820" width="1" height="3" fill="#000"/>
<text transform="translate(4,832)">5 Aug 2022</text>
<rect x="69" y="820" width="1" height="3" fill="#000"/>
<text transform="translate(68,832)">8 Aug 08:00</text>
<rect x="133" y="820" width="1" height="3" fill="#000"/>
<text transform="translate(132,832)">9 Aug 00:00</text>
<rect x="197" y="820" width="1" height="3" fill="#000"/>
<text transform="translate(196,832)">9 Aug 16:00</text>
<rect x="261" y="820" width="1" height="3" fill="#000"/>
<text transform="translate(260,832)">10 Aug 08:00</text>
<rect x="325" y="820" width="1" height="3" fill="#000"/>
<text transform="translate(324,832)">11 Aug 00:00</text>
<rect x="389" y="820" width="1" height="3" fill="#000"/>
<text transform="translate(388,832)">11 Aug 16:00</text>
<rect x="453" y="820" width="1" height="3" fill="#000"/>
<text transform="translate(452,832)">12 Aug 08:00</text>
<rect x="517" y="820" width="1" height="3" fill="#000"/>
<text transform="translate(516,832)">15 Aug 00:00</text>
<rect x="581" y="820" width="1" height="3" fill="#000"/>
<text transform="translate(580,832)">15 Aug 16:00</text>
<rect x="645" y="820" width="1" height="3" fill="#000"/>
<text transform="translate(644,832)">16 Aug 08:00</text>
<rect x="709" y="820" width="1" height="3" fill="#000"/>
<text transform="translate(708,832)">17 Aug 00:00</text>
<rect x="773" y="820" width="1" height="3" fill="#000"/>
<text transform="translate(772,832)">17 Aug 16:00</text>
<rect x="837" y="820" width="1" height="3" fill="#000"/>
<text transform="translate(836,832)">18 Aug 08:00</text>
<rect x="901" y="820" width="1" height="3" fill="#000"/>
<text transform="translate(900,832)">19 Aug 00:00</text>
<rect x="965" y="820" width="1" height="3" fill="#000"/>
<text transform="translate(964,832)">19 Aug 16:00</text>
<rect x="1029" y="820" width="1" height="3" fill="#000"/>
<text transform="translate(1028,832)">22 Aug 08:00</text>
<rect x="1093" y="820" width="1" height="3" fill="#000"/>
<text transform="translate(1092,832)">23 Aug 00:00</text>
<rect x="1157" y="820" width="1" height="3" fill="#000"/>
<text transform="translate(1156,832)">23 Aug 16:00</text>
<rect x="1221" y="820" width="1" height="3" fill="#000"/>
<text transform="translate(1220,832)">24 Aug 08:00</text>
<rect x="1285" y="820" width="1" height="3" fill="#000"/>
<text transform="translate(1284,832)">25 Aug 00:00</text>
<rect x="1349" y="820" width="1" height="3" fill="#000"/>
<text transform="translate(1348,832)">25 Aug 16:00</text>
<defs><pattern id="dith" width="2" height="2" patternUnits="userSpaceOnUse"><rect width="2" height="2" fill="#f8f8f8"/><rect width="1" height="1" fill="#e6e6e6"/><rect x="1" y="1" width="1" height="1" fill="#e6e6e6"/></pattern><linearGradient id="gold" x1="0.3" y1="0" x2="0.5" y2="1"><stop offset="0" stop-color="#fff080"/><stop offset="0.45" stop-color="#f0c020"/><stop offset="1" stop-color="#d89a10"/></linearGradient><linearGradient id="grn" x1="0" y1="0" x2="1" y2="1"><stop offset="0" stop-color="#90ffa0"/><stop offset="1" stop-color="#00d020"/></linearGradient><linearGradient id="clk" x1="0.2" y1="0" x2="0.8" y2="1"><stop offset="0" stop-color="#50b8ff"/><stop offset="0.5" stop-color="#1070e0"/><stop offset="1" stop-color="#003080"/></linearGradient><radialGradient id="badge" cx="0.4" cy="0.3" r="0.7"><stop offset="0" stop-color="#f06040"/><stop offset="1" stop-color="#d82010"/></radialGradient></defs>
<rect x="5" y="0" width="1" height="17" fill="#a0a0a0"/>
<rect x="6" y="0" width="1" height="17" fill="#ffffff"/>
<g shape-rendering="geometricPrecision">
<path d="M15.5,-1 H23.5 L26.5,2 V12.5 H15.5 Z" fill="#fff" stroke="#707070" stroke-width="1"/>
<path d="M23.5,-1 V2.5 H26.5" fill="none" stroke="#707070" stroke-width="1"/>
<line x1="17" y1="2" x2="21" y2="2" stroke="#808080" stroke-width="1"/>
<line x1="17" y1="5.5" x2="23" y2="5.5" stroke="#808080" stroke-width="1"/>
<line x1="17" y1="7.5" x2="23" y2="7.5" stroke="#808080" stroke-width="1"/>
<line x1="17" y1="9.5" x2="23" y2="9.5" stroke="#808080" stroke-width="1"/>
<path d="M23,5 H27 V9 H31 V13 H27 V17 H23 V13 H19 V9 H23 Z" fill="url(#grn)" stroke="#008a00" stroke-width="1"/>
</g>
<text class="cj" x="34" y="10">新订单</text>
<g shape-rendering="geometricPrecision">
<path d="M87.8,-0.6 L96.9,6.3 L97.9,9 L89.8,14.6 L82.1,8.8 Z" fill="#c89020" stroke="#9a5c08" stroke-width="0.9"/>
<path d="M87.9,0.4 L96.1,6.6 L89.4,11.7 L83.3,7.8 Z" fill="url(#gold)"/>
<path d="M83.3,8.3 L89.4,12.3 L89.5,13.6 L83.1,9.4 Z" fill="#f6dc98"/>
<path d="M96.3,7 L97.2,8.8 L90.1,13.7 L89.9,12.2 Z" fill="#e4d49c"/>
<rect x="112" y="-2" width="11" height="10" rx="1" fill="#1090f0" stroke="#0a6ad0" stroke-width="0.8"/>
<rect x="116" y="3.5" width="5" height="1.2" fill="#c8e8ff"/>
<path d="M111.5,14.5 C109,14.5 109.5,10.5 112,10.5 C112.5,8 116,7 117.5,9 C119,6.5 123,7.5 122.5,10 C126,10 126.5,14.5 123.5,14.5 Z" fill="#e4e8f0" stroke="#3a5a9a" stroke-width="0.9"/>
<circle cx="146" cy="7" r="7.5" fill="none" stroke="#3060c8" stroke-width="0.9" opacity="0.75"/>
<circle cx="146" cy="7" r="5" fill="none" stroke="#3060c8" stroke-width="0.9" opacity="0.7"/>
<path d="M146.5,7 L146.5,14.5 A7.5,7.5 0 0 0 153.5,7 Z" fill="#a8d8a0" opacity="0.6"/>
<circle cx="146" cy="7" r="2" fill="#2050c0"/>
<line x1="146.5" y1="7" x2="146.5" y2="14.5" stroke="#20a020" stroke-width="1.2"/>
<path d="M166,6 L180,6 L172.5,14.5 Z" fill="#f8e060" stroke="#c09010" stroke-width="0.8"/>
<ellipse cx="173" cy="4" rx="7.5" ry="2.6" fill="#68b8e8" stroke="#2a80b0" stroke-width="0.8"/>
<path d="M170,3.5 L171.5,-2 L174.5,-2 L176,3.5 Z" fill="#80c8f0"/>
<circle cx="177.5" cy="10.5" r="4" fill="#e02010" stroke="#b01000" stroke-width="0.6"/>
<rect x="176.2" y="9.2" width="2.6" height="2.6" fill="#fff"/>
</g>
<text class="cj" x="187" y="9.8">自动交易</text>
<rect x="241" y="0" width="1" height="19" fill="#a0a0a0"/>
<rect x="242" y="0" width="1" height="19" fill="#ffffff"/>
<rect x="245" y="1" width="3" height="1" fill="#808080"/>
<rect x="245" y="3" width="3" height="1" fill="#808080"/>
<rect x="245" y="5" width="3" height="1" fill="#808080"/>
<rect x="245" y="7" width="3" height="1" fill="#808080"/>
<rect x="245" y="9" width="3" height="1" fill="#808080"/>
<rect x="245" y="11" width="3" height="1" fill="#808080"/>
<rect x="245" y="13" width="3" height="1" fill="#808080"/>
<rect x="245" y="15" width="3" height="1" fill="#808080"/>
<g shape-rendering="geometricPrecision">
<line x1="259.5" y1="1.5" x2="259.5" y2="15" stroke="#505050" stroke-width="1"/>
<line x1="257" y1="12.5" x2="270.5" y2="12.5" stroke="#505050" stroke-width="1"/>
<path d="M257.8,3 L259.5,1 L261.2,3" fill="none" stroke="#505050" stroke-width="1"/>
<path d="M269,10.8 L271,12.5 L269,14.2" fill="none" stroke="#505050" stroke-width="1"/>
<path d="M263,9.5 H265.5 M265.5,2.3 V10.6 M265.5,3.5 H268" fill="none" stroke="#008000" stroke-width="1.1"/>
</g>
<rect x="279" y="0" width="1" height="17" fill="#a0a0a0"/>
<rect x="280" y="0" width="1" height="17" fill="#ffffff"/>
<rect x="281" y="0" width="24" height="17" fill="url(#dith)"/>
<rect x="281" y="17" width="24" height="1" fill="#ffffff"/>
<g shape-rendering="geometricPrecision">
<line x1="287.5" y1="1.5" x2="287.5" y2="15" stroke="#505050" stroke-width="1"/>
<line x1="285" y1="12.5" x2="298.5" y2="12.5" stroke="#505050" stroke-width="1"/>
<path d="M285.8,3 L287.5,1 L289.2,3" fill="none" stroke="#505050" stroke-width="1"/>
<path d="M297,10.8 L299,12.5 L297,14.2" fill="none" stroke="#505050" stroke-width="1"/>
<line x1="293.5" y1="-0.5" x2="293.5" y2="10.5" stroke="#008a00" stroke-width="1"/>
<rect x="291.5" y="1.5" width="4.5" height="7" fill="url(#grn)" stroke="#008a00" stroke-width="1"/>
<line x1="315.5" y1="1.5" x2="315.5" y2="15" stroke="#505050" stroke-width="1"/>
<line x1="313" y1="12.5" x2="326.5" y2="12.5" stroke="#505050" stroke-width="1"/>
<path d="M313.8,3 L315.5,1 L317.2,3" fill="none" stroke="#505050" stroke-width="1"/>
<path d="M325,10.8 L327,12.5 L325,14.2" fill="none" stroke="#505050" stroke-width="1"/>
<path d="M314.3,9.6 C316.5,7 318.5,4 320.3,4.4 C322.5,4.8 324,8 325.8,8.2" fill="none" stroke="#2a9a2a" stroke-width="1"/>
</g>
<rect x="336" y="0" width="1" height="17" fill="#a0a0a0"/>
<rect x="337" y="0" width="1" height="17" fill="#ffffff"/>
<g shape-rendering="geometricPrecision">
<line x1="355" y1="9.5" x2="360" y2="14.3" stroke="#a07810" stroke-width="3.2" stroke-linecap="round"/>
<line x1="355" y1="9.5" x2="360" y2="14.3" stroke="#f0d040" stroke-width="1.8" stroke-linecap="round"/>
<circle cx="351" cy="5.3" r="5.3" fill="#d8f0ff" stroke="#2b6fc4" stroke-width="1.1"/>
<line x1="348" y1="5.3" x2="354" y2="5.3" stroke="#4a8ab8" stroke-width="1.6"/>
<line x1="351" y1="2.3" x2="351" y2="8.3" stroke="#4a8ab8" stroke-width="1.6"/>
<line x1="383.5" y1="9.5" x2="388.5" y2="14.3" stroke="#a07810" stroke-width="3.2" stroke-linecap="round"/>
<line x1="383.5" y1="9.5" x2="388.5" y2="14.3" stroke="#f0d040" stroke-width="1.8" stroke-linecap="round"/>
<circle cx="379.5" cy="5.3" r="5.3" fill="#d8f0ff" stroke="#2b6fc4" stroke-width="1.1"/>
<line x1="376.5" y1="5.3" x2="382.5" y2="5.3" stroke="#4a8ab8" stroke-width="1.6"/>
<rect x="401" y="-1" width="8" height="8" rx="0.8" fill="#40a020"/>
<rect x="402" y="2" width="6" height="4" rx="0.6" fill="#fff"/>
<rect x="403" y="3" width="4" height="1" fill="#a8d890"/>
<rect x="403" y="5" width="4" height="1" fill="#a8d890"/>
<rect x="409" y="-1" width="8" height="8" rx="0.8" fill="#1a5ad8"/>
<rect x="410" y="2" width="6" height="4" rx="0.6" fill="#fff"/>
<rect x="411" y="3" width="4" height="1" fill="#a8c0f0"/>
<rect x="411" y="5" width="4" height="1" fill="#a8c0f0"/>
<rect x="401" y="7.5" width="8" height="7.5" rx="0.8" fill="#1a5ad8"/>
<rect x="402" y="9.5" width="6" height="4" rx="0.6" fill="#fff"/>
<rect x="403" y="10.5" width="4" height="1" fill="#a8c0f0"/>
<rect x="403" y="12.5" width="4" height="1" fill="#a8c0f0"/>
<rect x="409" y="7.5" width="8" height="7.5" rx="0.8" fill="#40a020"/>
<rect x="410" y="9.5" width="6" height="4" rx="0.6" fill="#fff"/>
<rect x="411" y="10.5" width="4" height="1" fill="#a8d890"/>
<rect x="411" y="12.5" width="4" height="1" fill="#a8d890"/>
</g>
<rect x="426" y="0" width="1" height="17" fill="#a0a0a0"/>
<rect x="427" y="0" width="1" height="17" fill="#ffffff"/>
<rect x="431" y="0" width="1" height="17" fill="#a0a0a0"/>
<rect x="432" y="0" width="1" height="17" fill="#ffffff"/>
<rect x="433" y="0" width="24" height="17" fill="url(#dith)"/>
<rect x="433" y="17" width="24" height="1" fill="#ffffff"/>
<g shape-rendering="geometricPrecision">
<line x1="439.5" y1="1.5" x2="439.5" y2="15" stroke="#505050" stroke-width="1"/>
<line x1="437" y1="12.5" x2="450.5" y2="12.5" stroke="#505050" stroke-width="1"/>
<path d="M437.8,3 L439.5,1 L441.2,3" fill="none" stroke="#505050" stroke-width="1"/>
<path d="M449,10.8 L451,12.5 L449,14.2" fill="none" stroke="#505050" stroke-width="1"/>
<path d="M444.5,3.2 L448.5,6.5 L444.5,9.8 Z" fill="#40e060" stroke="#009020" stroke-width="1"/>
</g>
<rect x="459" y="0" width="1" height="17" fill="#a0a0a0"/>
<rect x="460" y="0" width="1" height="17" fill="#ffffff"/>
<rect x="461" y="0" width="24" height="17" fill="url(#dith)"/>
<rect x="461" y="17" width="24" height="1" fill="#ffffff"/>
<g shape-rendering="geometricPrecision">
<line x1="467.5" y1="1.5" x2="467.5" y2="15" stroke="#505050" stroke-width="1"/>
<line x1="465" y1="12.5" x2="478.5" y2="12.5" stroke="#505050" stroke-width="1"/>
<path d="M465.8,3 L467.5,1 L469.2,3" fill="none" stroke="#505050" stroke-width="1"/>
<path d="M477,10.8 L479,12.5 L477,14.2" fill="none" stroke="#505050" stroke-width="1"/>
<line x1="473.5" y1="0.5" x2="473.5" y2="10.5" stroke="#1070c0" stroke-width="1"/>
<path d="M478.5,6.5 H475 M477,4.5 L475,6.5 L477,8.5" fill="none" stroke="#e04010" stroke-width="1.2"/>
</g>
<rect x="488" y="0" width="1" height="17" fill="#a0a0a0"/>
<rect x="489" y="0" width="1" height="17" fill="#ffffff"/>
<g shape-rendering="geometricPrecision">
<path d="M498.5,-1 H506 L509,2 V12.5 H498.5 Z" fill="#fff" stroke="#707070" stroke-width="1"/>
<path d="M506.5,0 L506.5,2.5 L509,2.5" fill="#fff" stroke="#505050" stroke-width="0.9"/>
<path d="M503.8,2.6 C502.3,2.6 502,3.6 502,5 V6 L501.2,6.5 L502,7 V8.5 C502,9.6 502.6,9.8 503.8,9.8" fill="none" stroke="#403820" stroke-width="0.9"/>
<path d="M506.2,5.5 H509.8 V9.2 H513.5 V12.8 H509.8 V16.5 H506.2 V12.8 H502.5 V9.2 H506.2 Z" fill="url(#grn)" stroke="#008a00" stroke-width="1"/>
</g>
<polygon points="519.5,6 525.5,6 522.5,9.5" fill="#000" shape-rendering="geometricPrecision"/>
<g shape-rendering="geometricPrecision">
<circle cx="544" cy="7" r="7.9" fill="url(#clk)"/>
<circle cx="544" cy="7" r="5.3" fill="#f2f2f2"/>
<circle cx="546.10" cy="3.36" r="0.45" fill="#606060"/>
<circle cx="547.64" cy="4.90" r="0.45" fill="#606060"/>
<circle cx="547.64" cy="9.10" r="0.45" fill="#606060"/>
<circle cx="546.10" cy="10.64" r="0.45" fill="#606060"/>
<circle cx="544.00" cy="11.20" r="0.45" fill="#606060"/>
<circle cx="541.90" cy="10.64" r="0.45" fill="#606060"/>
<circle cx="540.36" cy="9.10" r="0.45" fill="#606060"/>
<circle cx="539.80" cy="7.00" r="0.45" fill="#606060"/>
<circle cx="540.36" cy="4.90" r="0.45" fill="#606060"/>
<circle cx="541.90" cy="3.36" r="0.45" fill="#606060"/>
<path d="M543.3,3.3 L543.8,7.2 L547.2,6.7" fill="none" stroke="#202020" stroke-width="1.1"/>
</g>
<polygon points="558.5,6 564.5,6 561.5,9.5" fill="#000" shape-rendering="geometricPrecision"/>
<g shape-rendering="geometricPrecision">
<rect x="575.5" y="-0.5" width="15" height="14" rx="1" fill="#fff" stroke="#2a6cb8" stroke-width="1"/>
<rect x="575.5" y="-0.5" width="15" height="3.4" fill="#3a7cc8"/>
<rect x="577" y="0.6" width="6" height="0.9" fill="#a8d0f8"/>
<rect x="576" y="7.9" width="14" height="0.9" fill="#6a94c0"/>
<rect x="576" y="12.9" width="14" height="1" fill="#2a6cb8"/>
<polyline points="577.2,6.4 579.6,6.4 581,5.4 583,4.5 584.5,5.4 586.8,5.4 588.5,4.5" fill="none" stroke="#a02000" stroke-width="1.1"/>
<polyline points="578.3,11.5 580.9,10.4 583,11.5 585.9,9.3 588.5,11.5" fill="none" stroke="#108a10" stroke-width="1.1"/>
</g>
<polygon points="597.5,6 603.5,6 600.5,9.5" fill="#000" shape-rendering="geometricPrecision"/>
<rect x="609" y="0" width="1" height="19" fill="#a0a0a0"/>
<rect x="610" y="0" width="1" height="19" fill="#ffffff"/>
<rect x="613" y="1" width="3" height="1" fill="#808080"/>
<rect x="613" y="3" width="3" height="1" fill="#808080"/>
<rect x="613" y="5" width="3" height="1" fill="#808080"/>
<rect x="613" y="7" width="3" height="1" fill="#808080"/>
<rect x="613" y="9" width="3" height="1" fill="#808080"/>
<rect x="613" y="11" width="3" height="1" fill="#808080"/>
<rect x="613" y="13" width="3" height="1" fill="#808080"/>
<rect x="613" y="15" width="3" height="1" fill="#808080"/>
<rect x="619" y="0" width="1" height="17" fill="#a0a0a0"/>
<rect x="620" y="0" width="1" height="17" fill="#ffffff"/>
<rect x="621" y="0" width="23" height="17" fill="url(#dith)"/>
<rect x="621" y="17" width="23" height="1" fill="#ffffff"/>
<g shape-rendering="geometricPrecision">
<path d="M627.5,0.5 L627.5,11 L630,8.7 L632.5,14 L634.3,13.2 L631.8,8 L635.5,8 Z" fill="#505050"/>
</g>
<rect x="659" y="2" width="1" height="13" fill="#505050"/>
<rect x="652" y="7" width="15" height="1" fill="#505050"/>
<rect x="659" y="7" width="1" height="1" fill="#f0f0f0"/>
<rect x="676" y="0" width="1" height="17" fill="#a0a0a0"/>
<rect x="677" y="0" width="1" height="17" fill="#ffffff"/>
<rect x="693" y="1" width="1" height="13" fill="#404040"/>
<rect x="716" y="7" width="12" height="1" fill="#404040"/>
<g shape-rendering="geometricPrecision">
<line x1="744" y1="13.8" x2="756" y2="1.8" stroke="#404040" stroke-width="1"/>
<line x1="770" y1="8" x2="781" y2="0" stroke="#404040" stroke-width="1"/>
<line x1="772" y1="13.5" x2="783" y2="5" stroke="#404040" stroke-width="1"/>
<path d="M772.5,7 v4 M775,5 v4 M777.5,3.5 v4 M780,1.5 v4" stroke="#404040" stroke-width="0.8"/>
</g>
<text x="780.5" y="16" style="font-size:7.5px;font-weight:bold;fill:#404040">E</text>
<rect x="799" y="0" width="1" height="1" fill="#404040"/>
<rect x="801" y="0" width="1" height="1" fill="#404040"/>
<rect x="803" y="0" width="1" height="1" fill="#404040"/>
<rect x="805" y="0" width="1" height="1" fill="#404040"/>
<rect x="807" y="0" width="1" height="1" fill="#404040"/>
<rect x="809" y="0" width="1" height="1" fill="#404040"/>
<rect x="811" y="0" width="1" height="1" fill="#404040"/>
<rect x="799" y="3" width="1" height="1" fill="#404040"/>
<rect x="801" y="3" width="1" height="1" fill="#404040"/>
<rect x="803" y="3" width="1" height="1" fill="#404040"/>
<rect x="805" y="3" width="1" height="1" fill="#404040"/>
<rect x="807" y="3" width="1" height="1" fill="#404040"/>
<rect x="809" y="3" width="1" height="1" fill="#404040"/>
<rect x="811" y="3" width="1" height="1" fill="#404040"/>
<rect x="799" y="7" width="1" height="1" fill="#404040"/>
<rect x="801" y="7" width="1" height="1" fill="#404040"/>
<rect x="803" y="7" width="1" height="1" fill="#404040"/>
<rect x="805" y="7" width="1" height="1" fill="#404040"/>
<rect x="807" y="7" width="1" height="1" fill="#404040"/>
<rect x="809" y="7" width="1" height="1" fill="#404040"/>
<rect x="811" y="7" width="1" height="1" fill="#404040"/>
<rect x="799" y="11" width="1" height="1" fill="#404040"/>
<rect x="801" y="11" width="1" height="1" fill="#404040"/>
<rect x="803" y="11" width="1" height="1" fill="#404040"/>
<rect x="805" y="11" width="1" height="1" fill="#404040"/>
<rect x="807" y="11" width="1" height="1" fill="#404040"/>
<rect x="809" y="11" width="1" height="1" fill="#404040"/>
<rect x="811" y="11" width="1" height="1" fill="#404040"/>
<text x="809" y="16" style="font-size:7.5px;font-weight:bold;fill:#404040">F</text>
<text x="829" y="12" style="font-size:11px;font-weight:bold;fill:#505050">A</text>
<rect x="856" y="1" width="1" height="1" fill="#505050"/>
<rect x="856" y="13" width="1" height="1" fill="#505050"/>
<rect x="858" y="1" width="1" height="1" fill="#505050"/>
<rect x="858" y="13" width="1" height="1" fill="#505050"/>
<rect x="860" y="1" width="1" height="1" fill="#505050"/>
<rect x="860" y="13" width="1" height="1" fill="#505050"/>
<rect x="862" y="1" width="1" height="1" fill="#505050"/>
<rect x="862" y="13" width="1" height="1" fill="#505050"/>
<rect x="864" y="1" width="1" height="1" fill="#505050"/>
<rect x="864" y="13" width="1" height="1" fill="#505050"/>
<rect x="866" y="1" width="1" height="1" fill="#505050"/>
<rect x="866" y="13" width="1" height="1" fill="#505050"/>
<rect x="856" y="1" width="1" height="1" fill="#505050"/>
<rect x="867" y="1" width="1" height="1" fill="#505050"/>
<rect x="856" y="3" width="1" height="1" fill="#505050"/>
<rect x="867" y="3" width="1" height="1" fill="#505050"/>
<rect x="856" y="5" width="1" height="1" fill="#505050"/>
<rect x="867" y="5" width="1" height="1" fill="#505050"/>
<rect x="856" y="7" width="1" height="1" fill="#505050"/>
<rect x="867" y="7" width="1" height="1" fill="#505050"/>
<rect x="856" y="9" width="1" height="1" fill="#505050"/>
<rect x="867" y="9" width="1" height="1" fill="#505050"/>
<rect x="856" y="11" width="1" height="1" fill="#505050"/>
<rect x="867" y="11" width="1" height="1" fill="#505050"/>
<rect x="856" y="13" width="1" height="1" fill="#505050"/>
<rect x="867" y="13" width="1" height="1" fill="#505050"/>
<rect x="855" y="0" width="2" height="1" fill="#505050"/>
<text x="858" y="12" style="font-size:11px;font-weight:bold;fill:#505050">T</text>
<g shape-rendering="geometricPrecision">
<path d="M884,4 L887,1.5 L890,4 L887,6.5 Z M891,11 L894,8.5 L897,11 L894,13.5 Z" fill="#505050"/>
<path d="M885.5,7.5 L888,10 L893,5" fill="none" stroke="#505050" stroke-width="1.3"/>
</g>
<polygon points="903.5,6 909.5,6 906.5,9.5" fill="#000" shape-rendering="geometricPrecision"/>
<rect x="915" y="0" width="1" height="19" fill="#a0a0a0"/>
<rect x="916" y="0" width="1" height="19" fill="#ffffff"/>
<rect x="919" y="1" width="3" height="1" fill="#808080"/>
<rect x="919" y="3" width="3" height="1" fill="#808080"/>
<rect x="919" y="5" width="3" height="1" fill="#808080"/>
<rect x="919" y="7" width="3" height="1" fill="#808080"/>
<rect x="919" y="9" width="3" height="1" fill="#808080"/>
<rect x="919" y="11" width="3" height="1" fill="#808080"/>
<rect x="919" y="13" width="3" height="1" fill="#808080"/>
<rect x="919" y="15" width="3" height="1" fill="#808080"/>
<text class="tb" x="930.5" y="11">M1</text>
<text class="tb" x="958.5" y="11">M5</text>
<text class="tb" x="984.5" y="11">M15</text>
<text class="tb" x="1012.5" y="11">M30</text>
<text class="tb" x="1043.5" y="11">H1</text>
<rect x="1065" y="0" width="1" height="17" fill="#a0a0a0"/>
<rect x="1066" y="0" width="1" height="17" fill="#ffffff"/>
<rect x="1067" y="0" width="24" height="17" fill="url(#dith)"/>
<rect x="1067" y="17" width="24" height="1" fill="#ffffff"/>
<text class="tb" x="1070.5" y="11">H4</text>
<text class="tb" x="1099.5" y="11">D1</text>
<text class="tb" x="1127" y="11">W1</text>
<text class="tb" x="1153.5" y="11">MN</text>
<rect x="1176" y="0" width="1" height="19" fill="#a0a0a0"/>
<rect x="1177" y="0" width="1" height="19" fill="#ffffff"/>
<g shape-rendering="geometricPrecision">
<line x1="1639" y1="12.3" x2="1643.5" y2="7.8" stroke="#1a50c0" stroke-width="2.2" stroke-linecap="round"/>
<circle cx="1646.5" cy="4.4" r="3.6" fill="#f4f6ff" stroke="#2060d0" stroke-width="1.2"/>
<path d="M1668.5,4.5 C1664,4.5 1663,7 1663,9 C1663,11 1664.5,12.5 1666.5,13 L1666,15.5 L1668.5,13.3 C1672,13.3 1674,11.5 1674,9 C1674,6.5 1672,4.5 1668.5,4.5 Z" fill="#e8e8f0" stroke="#a0a0a0" stroke-width="0.8"/>
<circle cx="1677.4" cy="4.3" r="8.3" fill="url(#badge)"/>
</g>
<text x="1674" y="9" style="font-family:'Liberation Serif',serif;font-size:12px;font-weight:bold;fill:#fff">1</text>
</svg></body></html>
